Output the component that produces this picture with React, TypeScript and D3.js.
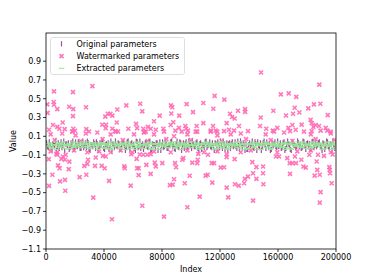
import React from 'react'
import * as d3 from 'd3'

/** Step between the sampled indices of the original / extracted parameters */
const sampleStep = 1250

/** Original parameters, one value per sampled index (first and second pass) */
const originalValues = [
    0.03, -0.02, 0.01, -0.04, 0.02, 0.05, -0.01, -0.03, 0.04, 0.00,
    -0.05, 0.02, 0.03, -0.02, 0.01, -0.04, 0.04, -0.01, 0.02, -0.03,
    0.05, 0.00, -0.02, 0.03, -0.05, 0.01, 0.04, -0.03, 0.02, -0.01,
    0.00, 0.04, -0.04, 0.02, 0.03, -0.02, -0.05, 0.01, 0.05, -0.01,
    0.02, -0.03, 0.04, 0.00, -0.02, 0.05, -0.04, 0.03, 0.01, -0.05,
    0.04, -0.01, -0.03, 0.02, 0.00, 0.03, -0.02, 0.05, -0.04, 0.01,
    -0.02, 0.03, 0.01, -0.05, 0.04, -0.01, 0.02, -0.03, 0.00, 0.05,
    0.01, -0.04, 0.05, -0.02, 0.03, 0.00, -0.03, 0.04, -0.01, 0.02,
    -0.03, 0.02, -0.01, 0.04, -0.05, 0.03, 0.01, -0.02, 0.05, 0.00,
    0.04, -0.02, 0.00, 0.03, -0.04, 0.01, 0.05, -0.03, 0.02, -0.01,
    -0.05, 0.03, 0.02, -0.01, 0.04, -0.03, 0.00, 0.05, -0.02, 0.01,
    0.02, -0.04, 0.03, 0.01, -0.02, 0.04, -0.05, 0.00, 0.03, -0.01,
    0.05, -0.03, 0.01, 0.02, -0.04, 0.00, 0.04, -0.02, -0.01, 0.03,
    -0.02, 0.04, -0.03, 0.05, 0.01, -0.05, 0.02, 0.00, -0.01, 0.03,
    0.01, -0.02, 0.04, -0.04, 0.03, 0.02, -0.03, 0.05, 0.00, -0.01,
    0.03, 0.00, -0.05, 0.02, -0.01, 0.04, -0.02, 0.01, 0.05, -0.03
]

const originalValuesB = [
    -0.01, 0.04, -0.03, 0.02, 0.00, -0.05, 0.03, 0.01, -0.02, 0.05,
    0.02, -0.01, -0.04, 0.03, 0.05, -0.02, 0.00, 0.04, -0.03, 0.01,
    -0.02, 0.03, 0.05, -0.04, 0.01, -0.01, 0.02, 0.04, -0.05, 0.03,
    0.04, -0.03, 0.01, -0.01, -0.04, 0.05, 0.02, -0.02, 0.00, 0.03,
    -0.04, 0.01, 0.03, -0.05, 0.04, -0.01, 0.02, 0.00, -0.03, 0.05,
    -0.02, 0.05, 0.00, -0.04, 0.03, -0.01, 0.04, -0.05, 0.02, 0.01,
    0.03, -0.05, 0.04, 0.00, -0.02, 0.05, -0.03, 0.01, 0.04, -0.01,
    -0.03, 0.02, -0.01, 0.04, -0.05, 0.03, 0.02, -0.02, 0.05, 0.00,
    0.05, -0.01, 0.03, -0.03, 0.02, -0.04, 0.00, 0.04, -0.02, 0.01,
    -0.01, 0.03, -0.05, 0.02, 0.04, -0.02, 0.01, 0.05, -0.04, 0.03,
    0.02, -0.03, 0.04, 0.00, -0.01, 0.05, -0.04, 0.02, 0.03, -0.05,
    -0.04, 0.01, 0.00, 0.05, -0.03, 0.02, 0.04, -0.01, -0.05, 0.03,
    0.01, 0.04, -0.02, -0.05, 0.03, 0.02, -0.01, 0.05, 0.00, -0.03,
    0.03, -0.05, 0.01, 0.02, -0.04, 0.04, 0.00, -0.02, 0.05, -0.01,
    -0.03, 0.05, 0.00, 0.02, -0.01, -0.04, 0.04, -0.02, 0.03, 0.01,
    0.04, -0.02, 0.03, -0.04, 0.05, -0.01, 0.02, -0.05, 0.00, 0.03
]

/** Extracted parameters, same sampled indices */
const extractedValues = [
    0.02, -0.01, 0.02, -0.03, 0.01, 0.04, 0.00, -0.02, 0.03, 0.01,
    -0.03, 0.01, 0.02, -0.03, 0.00, -0.02, 0.03, 0.00, 0.01, -0.02,
    0.04, 0.01, -0.01, 0.02, -0.03, 0.02, 0.03, -0.02, 0.01, 0.00,
    0.01, 0.03, -0.03, 0.01, 0.02, -0.01, -0.04, 0.02, 0.04, 0.00,
    0.01, -0.02, 0.03, 0.01, -0.01, 0.04, -0.03, 0.02, 0.00, -0.04,
    0.03, 0.00, -0.02, 0.01, 0.01, 0.02, -0.01, 0.04, -0.03, 0.02,
    -0.01, 0.02, 0.00, -0.04, 0.03, 0.00, 0.01, -0.02, 0.01, 0.04,
    0.02, -0.03, 0.04, -0.01, 0.02, 0.01, -0.02, 0.03, 0.00, 0.01,
    -0.02, 0.01, 0.00, 0.03, -0.04, 0.02, 0.02, -0.01, 0.04, 0.01,
    0.03, -0.01, 0.01, 0.02, -0.03, 0.00, 0.04, -0.02, 0.01, 0.00,
    -0.04, 0.02, 0.01, 0.00, 0.03, -0.02, 0.01, 0.04, -0.01, 0.02,
    0.01, -0.03, 0.02, 0.02, -0.01, 0.03, -0.04, 0.01, 0.02, 0.00,
    0.04, -0.02, 0.02, 0.01, -0.03, 0.01, 0.03, -0.01, 0.00, 0.02,
    -0.01, 0.03, -0.02, 0.04, 0.02, -0.04, 0.01, 0.01, 0.00, 0.02,
    0.02, -0.01, 0.03, -0.03, 0.02, 0.01, -0.02, 0.04, 0.01, 0.00,
    0.02, 0.01, -0.04, 0.01, 0.00, 0.03, -0.01, 0.02, 0.04, -0.02
]

const extractedValuesB = [
    0.00, 0.03, -0.02, 0.01, 0.01, -0.04, 0.02, 0.02, -0.01, 0.04,
    0.01, 0.00, -0.03, 0.02, 0.04, -0.01, 0.01, 0.03, -0.02, 0.02,
    -0.01, 0.02, 0.04, -0.03, 0.00, 0.00, 0.01, 0.03, -0.04, 0.02,
    0.03, -0.02, 0.02, 0.00, -0.03, 0.04, 0.01, -0.01, 0.01, 0.02,
    -0.03, 0.02, 0.02, -0.04, 0.03, 0.00, 0.01, 0.01, -0.02, 0.04,
    -0.01, 0.04, 0.01, -0.03, 0.02, 0.00, 0.03, -0.04, 0.01, 0.02,
    0.02, -0.04, 0.03, 0.01, -0.01, 0.04, -0.02, 0.02, 0.03, 0.00,
    -0.02, 0.01, 0.00, 0.03, -0.04, 0.02, 0.01, -0.01, 0.04, 0.01,
    0.04, 0.00, 0.02, -0.02, 0.01, -0.03, 0.01, 0.03, -0.01, 0.02,
    0.00, 0.02, -0.04, 0.01, 0.03, -0.01, 0.02, 0.04, -0.03, 0.02,
    0.01, -0.02, 0.03, 0.01, 0.00, 0.04, -0.03, 0.01, 0.02, -0.04,
    -0.03, 0.02, 0.01, 0.04, -0.02, 0.01, 0.03, 0.00, -0.04, 0.02,
    0.02, 0.03, -0.01, -0.04, 0.02, 0.01, 0.00, 0.04, 0.01, -0.02,
    0.02, -0.04, 0.02, 0.01, -0.03, 0.03, 0.01, -0.01, 0.04, 0.00,
    -0.02, 0.04, 0.01, 0.01, 0.00, -0.03, 0.03, -0.01, 0.02, 0.02,
    0.03, -0.01, 0.02, -0.03, 0.04, 0.00, 0.01, -0.04, 0.01, 0.02
]

/** Watermarked parameters: index of the sample */
const watermarkedIndex = [
    148300, 32000, 188500, 5500, 18600, 162000, 167400, 172600, 116300, 123000,
    5300, 5500, 900, 1100, 7800, 16000, 18800, 18600, 27600, 55400,
    49200, 65000, 66400, 42600, 44400, 45700, 40900, 78400, 86200, 87100,
    86400, 91900, 97000, 101400, 108500, 115400, 126900, 128300, 130100, 132400,
    137300, 137300, 148100, 156800, 165500, 170400, 171500, 174700, 180900, 184800,
    189200, 194300, 4800, 7800, 9200, 11500, 12900, 2100, 18800, 20000,
    18100, 27800, 29700, 35400, 38800, 41200, 41400, 45700, 48800, 47800,
    49700, 56800, 62100, 62800, 67100, 68800, 70300, 67600, 72200, 74500,
    75700, 80900, 86000, 87800, 89200, 91700, 93600, 96100, 96600, 97900,
    104300, 103900, 108500, 113600, 115200, 117000, 118100, 122800, 124600, 126200,
    129700, 133100, 139300, 147600, 151900, 156400, 157300, 159500, 167100, 168300,
    169900, 172200, 176300, 177900, 182500, 183200, 184400, 186000, 183200, 188300,
    189400, 192900, 194000, 196300,
    1900, 7100, 7800, 11700, 10600, 13600, 13100, 8300, 9400, 16100,
    15700, 4400, 2100, 9700, 13100, 13300, 23200, 27800, 26400, 28500,
    29000, 34300, 33800, 38400, 39300, 41200, 40500, 32600, 43500, 45500,
    54000, 54300, 58400, 58800, 62500, 63900, 62800, 64600, 63900, 66400,
    67100, 69200, 69900, 72200, 72200, 75000, 75700, 80200, 81400, 85500,
    87400, 88300, 89000, 89700, 94700, 94000, 95700, 99100, 97500, 100900,
    104300, 104600, 105000, 106000, 110100, 111500, 111700, 114300, 115900, 114700,
    120500, 122800, 124600, 124600, 124600, 125700, 130100, 130300, 132900, 136600,
    137200, 139300, 142800, 142300, 145100, 149700, 149700, 145100, 149900, 142800,
    158600, 160700, 166400, 171700, 168100, 169900, 172400, 176100, 177500, 179100,
    168300, 181600, 187600, 186700, 187100, 185300, 188800, 189400, 188800, 191700,
    195400, 195700, 195900, 197000, 197700,
    3200, 11200, 18200, 20400, 27400, 44600, 48000, 60700, 67600, 74500,
    81400, 88300, 97500, 103200, 113600, 118200, 127400, 134300, 151500, 164200,
    182600, 196400,
    3200, 7800, 19300, 28500, 36600, 44600, 51500, 59500, 74500, 86000,
    97500, 109000, 118200, 134300, 141200, 159500, 173300, 182600, 196400,
    6000, 24000, 39000, 53000, 70000, 83000, 100000, 121000, 138000, 155000,
    170000, 186000, 199000
]

/** Watermarked parameters: value of the sample */
const watermarkedValues = [
    0.78, 0.635, 0.65, 0.578, 0.57, 0.546, 0.557, 0.52, 0.53, 0.49,
    0.465, 0.436, 0.44, 0.35, 0.39, 0.415, 0.39, 0.315, 0.41, 0.43,
    0.385, 0.447, 0.365, 0.34, 0.34, 0.32, 0.31, 0.32, 0.43, 0.41,
    0.343, 0.32, 0.443, 0.358, 0.454, 0.393, 0.34, 0.305, 0.29, 0.372,
    0.39, 0.36, 0.30, 0.372, 0.322, 0.34, 0.404, 0.354, 0.397, 0.44,
    0.447, 0.326, 0.22, 0.20, 0.18, 0.247, 0.177, 0.17, 0.18, 0.159,
    0.151, 0.177, 0.151, 0.14, 0.223, 0.187, 0.223, 0.18, 0.247, 0.155,
    0.15, 0.18, 0.233, 0.187, 0.18, 0.15, 0.20, 0.145, 0.18, 0.26,
    0.17, 0.18, 0.22, 0.25, 0.16, 0.19, 0.15, 0.21, 0.18, 0.16,
    0.15, 0.21, 0.24, 0.16, 0.21, 0.16, 0.15, 0.155, 0.24, 0.17,
    0.16, 0.21, 0.155, 0.21, 0.18, 0.16, 0.15, 0.19, 0.19, 0.155,
    0.22, 0.17, 0.225, 0.15, 0.275, 0.24, 0.20, 0.22, 0.155, 0.21,
    0.16, 0.19, 0.16, 0.15,
    -0.143, -0.087, -0.097, -0.115, -0.14, -0.097, -0.15, -0.21, -0.24, -0.17,
    -0.25, -0.31, -0.428, -0.38, -0.364, -0.48, -0.335, -0.31, -0.215, -0.193,
    -0.15, -0.126, -0.215, -0.215, -0.108, -0.115, -0.24, -0.553, -0.375, -0.783,
    -0.22, -0.24, -0.425, -0.09, -0.14, -0.24, -0.24, -0.094, -0.314, -0.64,
    -0.097, -0.204, -0.097, -0.09, -0.30, -0.18, -0.22, -0.186, -0.755, -0.42,
    -0.414, -0.357, -0.186, -0.23, -0.133, -0.15, -0.40, -0.32, -0.655, -0.18,
    -0.186, -0.15, -0.087, -0.542, -0.318, -0.31, -0.097, -0.186, -0.186, -0.393,
    -0.233, -0.229, -0.122, -0.09, -0.446, -0.55, -0.143, -0.41, -0.425, -0.40,
    -0.353, -0.33, -0.293, -0.175, -0.228, -0.222, -0.293, -0.353, -0.41, -0.585,
    -0.115, -0.115, -0.133, -0.115, -0.186, -0.186, -0.186, -0.15, -0.222, -0.233,
    -0.30, -0.097, -0.097, -0.168, -0.257, -0.318, -0.31, -0.495, -0.606, -0.108,
    -0.228, -0.257, -0.293, -0.40, -0.094,
    0.12, 0.13, 0.15, 0.11, 0.13, 0.12, 0.15, 0.12, 0.14, 0.12,
    0.15, 0.10, 0.12, 0.15, 0.15, 0.11, 0.12, 0.13, 0.12, 0.14,
    0.12, 0.13,
    -0.06, -0.07, -0.05, -0.07, -0.06, -0.07, -0.05, -0.07, -0.06, -0.07,
    -0.05, -0.07, -0.06, -0.07, -0.05, -0.07, -0.06, -0.05, -0.07,
    0.06, 0.05, 0.07, 0.06, 0.05, 0.07, 0.06, 0.05, 0.07, 0.06,
    0.05, 0.07, 0.06
]

/** Axis ticks */
const xTicks = [0, 40000, 80000, 120000, 160000, 200000]
const yTicks = [-1.1, -0.9, -0.7, -0.5, -0.3, -0.1, 0.1, 0.3, 0.5, 0.7, 0.9]

const legendLabels = ['Original parameters', 'Watermarked parameters', 'Extracted parameters']

const colors = {
    original: '#8e1f8e',
    watermarked: '#ff69b4',
    extracted: '#90ee90'
}

const font = '"DejaVu Sans", sans-serif'

const width = 374
const height = 280
const margin = { left: 46, right: 38, top: 33, bottom: 31 }

const xScale = d3.scaleLinear().domain([0, 200000]).range([margin.left, width - margin.right])
const yScale = d3.scaleLinear().domain([-1.1, 1.2]).range([height - margin.bottom, margin.top])
const yFormat = d3.format('.1f')

/** Marker drawing helpers */
const VBar = ({ x, y, color }) => (
    <line x1={x} x2={x} y1={y - 2.6} y2={y + 2.6} stroke={color} strokeWidth={1.2} opacity={0.8} />
)

const HBar = ({ x, y, color }) => (
    <line x1={x - 2.8} x2={x + 2.8} y1={y} y2={y} stroke={color} strokeWidth={1.3} opacity={0.85} />
)

const Cross = ({ x, y, color }) => (
    <path
        d={`M${x - 2},${y - 2}L${x + 2},${y + 2}M${x - 2},${y + 2}L${x + 2},${y - 2}`}
        stroke={color}
        strokeWidth={1.6}
        opacity={0.9}
        fill='none'
    />
)

const Legend = ({ left, top }) => {
    const rowH = 12.3
    return (
        <g transform={`translate(${left}, ${top})`}>
            <rect x={0} y={0} width={134} height={37} rx={2} fill='white' fillOpacity={0.8} stroke='#d6d6d6' strokeWidth={0.8} />
            {legendLabels.map((label, i) => {
                const cy = 6.3 + i * rowH
                let marker
                if (i === 0) marker = <VBar x={11} y={cy} color={colors.original} />
                else if (i === 1) marker = <Cross x={11} y={cy} color={colors.watermarked} />
                else marker = <HBar x={11} y={cy} color={colors.extracted} />
                return (
                    <g key={label}>
                        {marker}
                        <text x={26} y={cy} dy='0.35em' fontSize={8} fontFamily={font} fill='#000'>{label}</text>
                    </g>
                )
            })}
        </g>
    )
}

export default function App () {
    const plotBottom = height - margin.bottom
    const plotRight = width - margin.right
    return (
        <svg width={width} height={height} style={{ position: 'absolute', left: 0, top: 0, background: 'white' }}>
            <defs>
                <clipPath id='plot-clip'>
                    <rect x={margin.left} y={margin.top} width={plotRight - margin.left} height={plotBottom - margin.top} />
                </clipPath>
            </defs>
            <g clipPath='url(#plot-clip)'>
                {originalValues.map((v, i) => (
                    <VBar key={'o' + i} x={xScale(i * sampleStep + 400)} y={yScale(v)} color={colors.original} />
                ))}
                {originalValuesB.map((v, i) => (
                    <VBar key={'ob' + i} x={xScale(i * sampleStep + 1000)} y={yScale(v)} color={colors.original} />
                ))}
                {watermarkedValues.map((v, i) => (
                    <Cross key={'w' + i} x={xScale(watermarkedIndex[i])} y={yScale(v)} color={colors.watermarked} />
                ))}
                {extractedValues.map((v, i) => (
                    <HBar key={'e' + i} x={xScale(i * sampleStep + 400)} y={yScale(v)} color={colors.extracted} />
                ))}
                {extractedValuesB.map((v, i) => (
                    <HBar key={'eb' + i} x={xScale(i * sampleStep + 1000)} y={yScale(v)} color={colors.extracted} />
                ))}
            </g>
            <rect
                x={margin.left}
                y={margin.top}
                width={plotRight - margin.left}
                height={plotBottom - margin.top}
                fill='none'
                stroke='#000'
                strokeWidth={0.8}
            />
            {xTicks.map((t) => (
                <g key={'x' + t} transform={`translate(${xScale(t)}, ${plotBottom})`}>
                    <line y1={0} y2={3} stroke='#000' strokeWidth={0.8} />
                    <text y={11} textAnchor='middle' fontSize={8} fontFamily={font} fill='#000'>{t}</text>
                </g>
            ))}
            {yTicks.map((t) => (
                <g key={'y' + t} transform={`translate(${margin.left}, ${yScale(t)})`}>
                    <line x1={-3} x2={0} stroke='#000' strokeWidth={0.8} />
                    <text x={-5} dy='0.35em' textAnchor='end' fontSize={8} fontFamily={font} fill='#000'>{yFormat(t)}</text>
                </g>
            ))}
            <text x={(margin.left + plotRight) / 2} y={272} textAnchor='middle' fontSize={8} fontFamily={font} fill='#000'>Index</text>
            <text
                transform={`translate(13, ${(margin.top + plotBottom) / 2}) rotate(-90)`}
                textAnchor='middle'
                dy='0.35em'
                fontSize={8}
                fontFamily={font}
                fill='#000'
            >
                Value
            </text>
            <Legend left={50.5} top={37.5} />
        </svg>
    )
}
